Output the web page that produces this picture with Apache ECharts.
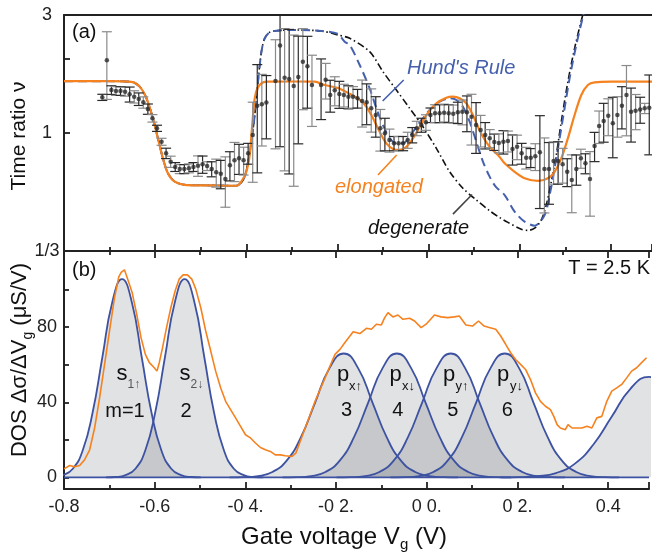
<!DOCTYPE html>
<html><head><meta charset="utf-8">
<script src="https://cdn.jsdelivr.net/npm/echarts@6/dist/echarts.min.js"></script>
<style>html,body{margin:0;padding:0;background:#fff}#c{width:652px;height:552px}</style>
</head><body><div id="c"></div>
<script>
const FONT = "'Liberation Sans', Arial, Helvetica, sans-serif";

// ---------- panel (a): measured time ratio ----------
const gateA = [-0.716,-0.706,-0.696,-0.686,-0.676,-0.666,-0.656,-0.646,-0.636,-0.626,-0.616,-0.606,-0.596,-0.586,-0.576,-0.566,-0.556,-0.546,-0.536,-0.526,-0.516,-0.506,-0.496,-0.486,-0.476,-0.466,-0.456,-0.446,-0.436,-0.426,-0.416,-0.406,-0.396,-0.386,-0.376,-0.366,-0.356,-0.336,-0.326,-0.316,-0.306,-0.296,-0.286,-0.276,-0.266,-0.256,-0.236,-0.226,-0.216,-0.206,-0.196,-0.186,-0.176,-0.166,-0.156,-0.146,-0.136,-0.126,-0.116,-0.106,-0.096,-0.086,-0.076,-0.066,-0.056,-0.046,-0.036,-0.026,-0.016,-0.006,0.004,0.014,0.024,0.034,0.044,0.054,0.064,0.074,0.084,0.094,0.104,0.114,0.124,0.134,0.144,0.154,0.164,0.174,0.184,0.194,0.204,0.214,0.224,0.234,0.244,0.254,0.264,0.274,0.284,0.294,0.304,0.314,0.324,0.334,0.344,0.354,0.364,0.374,0.384,0.394,0.404,0.414,0.424,0.434,0.444,0.454,0.464,0.474,0.484];
const ratioA = [1.394,1.967,1.492,1.479,1.479,1.469,1.434,1.402,1.372,1.33,1.25,1.147,1.045,0.922,0.828,0.766,0.729,0.715,0.715,0.72,0.729,0.738,0.747,0.735,0.715,0.694,0.685,0.651,0.74,0.776,0.79,0.776,0.828,0.982,1.29,1.306,1.327,1.623,2.26,1.673,1.653,1.549,1.684,1.942,1.86,1.563,1.563,1.642,1.424,1.488,1.438,1.424,1.402,1.40,1.381,1.347,1.33,1.258,1.182,1.045,0.997,0.937,0.908,0.908,0.908,0.937,0.982,1.045,1.077,1.105,1.182,1.201,1.201,1.208,1.201,1.197,1.212,1.219,1.212,1.164,1.077,1.028,0.982,0.952,0.92,0.912,0.922,0.928,0.862,0.88,0.828,0.795,0.795,0.805,0.835,0.715,0.715,0.771,0.771,0.747,0.697,0.646,0.715,0.79,0.754,0.651,0.886,1.067,1.118,1.175,1.094,1.182,1.289,1.424,1.219,1.231,1.245,1.258,1.266];
const ratioErr = [0.04,0.60,0.06,0.06,0.06,0.06,0.10,0.08,0.08,0.07,0.06,0.04,0.03,0.03,0.04,0.04,0.03,0.03,0.03,0.03,0.03,0.07,0.06,0.03,0.05,0.09,0.09,0.15,0.10,0.14,0.11,0.10,0.08,0.35,0.60,0.42,0.38,0.76,1.38,0.97,0.97,0.94,0.78,0.70,0.60,0.50,0.43,0.27,0.21,0.20,0.18,0.15,0.15,0.14,0.12,0.29,0.25,0.25,0.22,0.20,0.15,0.10,0.06,0.06,0.06,0.07,0.07,0.07,0.07,0.08,0.08,0.10,0.10,0.10,0.10,0.10,0.12,0.14,0.20,0.27,0.25,0.15,0.12,0.08,0.07,0.08,0.10,0.09,0.12,0.10,0.08,0.08,0.07,0.10,0.34,0.24,0.20,0.15,0.15,0.12,0.09,0.17,0.10,0.07,0.07,0.19,0.12,0.16,0.20,0.20,0.30,0.22,0.25,0.45,0.30,0.20,0.15,0.06,0.45];

// model curves (panel a)
const elongated = [[-0.80,1.62],[-0.70,1.62],[-0.652,1.61],[-0.634,1.54],[-0.619,1.38],[-0.605,1.147],[-0.594,0.952],[-0.583,0.79],[-0.572,0.687],[-0.557,0.636],[-0.531,0.616],[-0.48,0.614],[-0.422,0.612],[-0.411,0.636],[-0.400,0.697],[-0.3925,0.815],[-0.3888,0.982],[-0.3853,1.182],[-0.3816,1.381],[-0.3757,1.516],[-0.3669,1.588],[-0.3559,1.612],[-0.30,1.615],[-0.25,1.612],[-0.228,1.563],[-0.199,1.52],[-0.1732,1.44],[-0.1513,1.36],[-0.1366,1.277],[-0.1221,1.147],[-0.1075,1.012],[-0.0928,0.908],[-0.0783,0.862],[-0.0636,0.854],[-0.0489,0.88],[-0.0344,0.952],[-0.0197,1.06],[-0.005,1.182],[0.0169,1.318],[0.0388,1.389],[0.0533,1.402],[0.068,1.381],[0.0827,1.318],[0.0971,1.182],[0.1081,1.06],[0.1191,0.966],[0.1338,0.88],[0.1557,0.80],[0.1667,0.754],[0.1886,0.697],[0.2105,0.656],[0.2397,0.64],[0.2616,0.656],[0.2763,0.697],[0.291,0.79],[0.3055,0.952],[0.3202,1.182],[0.3349,1.424],[0.3493,1.563],[0.364,1.603],[0.4007,1.612],[0.49,1.612]];
const hundsRule = [[-0.80,1.62],[-0.70,1.62],[-0.652,1.61],[-0.634,1.54],[-0.619,1.38],[-0.605,1.147],[-0.594,0.952],[-0.583,0.79],[-0.572,0.687],[-0.557,0.636],[-0.531,0.616],[-0.48,0.614],[-0.422,0.612],[-0.405,0.656],[-0.3963,0.766],[-0.3888,0.922],[-0.3816,1.182],[-0.3757,1.516],[-0.3706,1.883],[-0.3656,2.20],[-0.3596,2.415],[-0.3487,2.554],[-0.334,2.592],[-0.3011,2.609],[-0.2353,2.585],[-0.20,2.52],[-0.1842,2.34],[-0.1732,2.269],[-0.1513,1.883],[-0.1294,1.516],[-0.1147,1.259],[-0.1002,1.077],[-0.0855,0.952],[-0.0708,0.908],[-0.0564,0.908],[-0.0417,0.966],[-0.027,1.06],[-0.0125,1.147],[0.0022,1.239],[0.0241,1.338],[0.0461,1.381],[0.0607,1.36],[0.0752,1.277],[0.0899,1.111],[0.1046,0.922],[0.1191,0.766],[0.1338,0.666],[0.147,0.607],[0.1667,0.561],[0.1886,0.481],[0.2105,0.438],[0.2325,0.422],[0.2544,0.466],[0.2654,0.561],[0.2763,0.72],[0.2873,0.952],[0.2982,1.259],[0.3092,1.664],[0.3239,2.269],[0.3384,2.95],[0.35,3.6]];
const degenerate = [[-0.80,1.62],[-0.70,1.62],[-0.652,1.61],[-0.634,1.54],[-0.619,1.38],[-0.605,1.147],[-0.594,0.952],[-0.583,0.79],[-0.572,0.687],[-0.557,0.636],[-0.531,0.616],[-0.48,0.614],[-0.422,0.612],[-0.405,0.656],[-0.3963,0.766],[-0.3888,0.922],[-0.3816,1.182],[-0.3757,1.516],[-0.3706,1.883],[-0.3656,2.20],[-0.3596,2.415],[-0.3487,2.554],[-0.334,2.592],[-0.3011,2.609],[-0.2353,2.585],[-0.1989,2.49],[-0.1732,2.415],[-0.1294,2.132],[-0.1002,1.77],[-0.0708,1.492],[-0.0417,1.259],[-0.0125,1.06],[0.0169,0.867],[0.0461,0.697],[0.0752,0.598],[0.1046,0.536],[0.1338,0.485],[0.1557,0.455],[0.1739,0.435],[0.2033,0.408],[0.2178,0.404],[0.2325,0.412],[0.2471,0.445],[0.2581,0.512],[0.2691,0.636],[0.28,0.815],[0.291,1.111],[0.3055,1.612],[0.3202,2.20],[0.3362,2.91],[0.35,3.6]];

// ---------- panel (b): density of states ----------
const dosMeasured = [[-0.80,4.5],[-0.7982,4.9],[-0.7873,6.3],[-0.7763,5.6],[-0.7654,6.3],[-0.7544,9.4],[-0.7434,14.7],[-0.7325,26.3],[-0.7215,42.4],[-0.7105,60.2],[-0.6996,78.0],[-0.6886,95.8],[-0.6792,106.8],[-0.6739,109.2],[-0.6667,110.6],[-0.6595,105.6],[-0.6498,98.5],[-0.6397,86.9],[-0.6301,74.4],[-0.6206,65.5],[-0.6118,61.1],[-0.6009,58.4],[-0.595,56.6],[-0.5899,61.1],[-0.5827,69.1],[-0.5739,79.8],[-0.5643,90.5],[-0.5548,99.4],[-0.5461,105.6],[-0.5373,107.9],[-0.5279,107.9],[-0.5182,105.6],[-0.5094,100.3],[-0.4985,90.5],[-0.4875,78.0],[-0.4765,67.3],[-0.4656,56.6],[-0.4546,47.7],[-0.4436,40.5],[-0.4327,36.1],[-0.4217,31.7],[-0.4107,27.2],[-0.3998,22.7],[-0.3888,21.0],[-0.3779,18.3],[-0.3669,15.9],[-0.3559,14.7],[-0.345,13.8],[-0.334,12.0],[-0.323,12.0],[-0.3121,11.5],[-0.2976,11.1],[-0.2888,12.9],[-0.2792,19.1],[-0.2682,26.3],[-0.2572,33.4],[-0.2463,40.5],[-0.2353,46.8],[-0.2243,53.0],[-0.2134,59.3],[-0.2024,65.5],[-0.1914,68.2],[-0.1805,71.8],[-0.1695,75.3],[-0.1623,77.6],[-0.1476,76.6],[-0.1331,79.4],[-0.1221,78.9],[-0.1112,81.6],[-0.1002,81.2],[-0.0928,85.1],[-0.0855,87.8],[-0.0746,85.5],[-0.0636,86.5],[-0.0526,84.2],[-0.0379,84.8],[-0.027,83.3],[-0.0125,79.8],[-0.0015,81.6],[0.0169,86.5],[0.0314,85.5],[0.0461,85.1],[0.0607,85.5],[0.0717,86.0],[0.0862,81.2],[0.1009,80.6],[0.114,83.3],[0.1265,80.6],[0.1375,79.8],[0.152,78.9],[0.163,75.3],[0.1739,70.9],[0.1849,66.4],[0.1958,62.8],[0.2068,60.2],[0.2178,57.5],[0.2287,52.1],[0.2397,45.0],[0.2507,40.5],[0.2616,37.9],[0.2726,36.1],[0.2801,32.5],[0.2873,28.1],[0.2945,26.3],[0.3055,25.4],[0.3114,28.1],[0.3202,26.3],[0.3311,26.3],[0.3421,26.3],[0.3531,27.2],[0.364,26.3],[0.375,31.7],[0.386,32.5],[0.3969,40.5],[0.4079,45.9],[0.4189,47.7],[0.4298,49.5],[0.4408,53.0],[0.4518,56.6],[0.4627,58.4],[0.4737,61.1],[0.4846,63.7]];

const peakS1 = [[-0.8456,0.0],[-0.8239,0.2],[-0.8022,1.2],[-0.7805,4.6],[-0.7588,14.3],[-0.7371,34.3],[-0.7154,64.0],[-0.6937,93.2],[-0.672,105.6],[-0.6503,93.2],[-0.6286,64.0],[-0.6069,34.3],[-0.5852,14.3],[-0.5635,4.6],[-0.5418,1.2],[-0.5201,0.2],[-0.4984,0.0]];
const peakS2 = [[-0.7076,0.0],[-0.6859,0.2],[-0.6642,1.2],[-0.6425,4.6],[-0.6208,14.3],[-0.5991,34.3],[-0.5774,64.0],[-0.5557,93.2],[-0.534,105.6],[-0.5123,93.2],[-0.4906,64.0],[-0.4689,34.3],[-0.4472,14.3],[-0.4255,4.6],[-0.4038,1.2],[-0.3821,0.2],[-0.3604,0.0]];
const peakPxUp = [[-0.435,0.0],[-0.4035,0.1],[-0.372,0.7],[-0.3405,2.9],[-0.309,8.9],[-0.2775,21.4],[-0.246,40.0],[-0.2145,58.2],[-0.183,66.0],[-0.1515,58.2],[-0.12,40.0],[-0.0885,21.4],[-0.057,8.9],[-0.0255,2.9],[0.006,0.7],[0.0375,0.1],[0.069,0.0]];
const peakPxDn = [[-0.318,0.0],[-0.2865,0.1],[-0.255,0.7],[-0.2235,2.9],[-0.192,8.9],[-0.1605,21.4],[-0.129,40.0],[-0.0975,58.2],[-0.066,66.0],[-0.0345,58.2],[-0.003,40.0],[0.0285,21.4],[0.06,8.9],[0.0915,2.9],[0.123,0.7],[0.1545,0.1],[0.186,0.0]];
const peakPyUp = [[-0.199,0.0],[-0.1675,0.1],[-0.136,0.7],[-0.1045,2.9],[-0.073,8.9],[-0.0415,21.4],[-0.01,40.0],[0.0215,58.2],[0.053,66.0],[0.0845,58.2],[0.116,40.0],[0.1475,21.4],[0.179,8.9],[0.2105,2.9],[0.242,0.7],[0.2735,0.1],[0.305,0.0]];
const peakPyDn = [[-0.08,0.0],[-0.0485,0.1],[-0.017,0.7],[0.0145,2.9],[0.046,8.9],[0.0775,21.4],[0.109,40.0],[0.1405,58.2],[0.172,66.0],[0.2035,58.2],[0.235,40.0],[0.2665,21.4],[0.298,8.9],[0.3295,2.9],[0.361,0.7],[0.3925,0.1],[0.424,0.0]];
const peakNext = [[0.162,0.0],[0.203,0.1],[0.244,0.6],[0.285,2.3],[0.326,7.2],[0.367,17.4],[0.408,32.4],[0.449,47.2],[0.49,53.5],[0.531,47.2]];
const zeroLine = [[-0.8,0],[0.49,0]];

// axis ticks / labels
const xLabelValues = [-0.8,-0.6,-0.4,-0.2,0,0.2,0.4];
const xLabelTexts = ['-0.8','-0.6','-0 4.','-0 2.','0 0.','0 2.','0.4'];
const ratioTickValues = [1,2];
const ratioLabelValues = [1/3,1,3];
const ratioLabelTexts = ['1/3','1','3'];
const dosTickValues = [0,20,40,60,80,100];
const dosLabelValues = [0,40,80];

const AX = '#222';
const ORANGE = '#f5821f';
const BLUE = '#3d52a1';
const HBLUE = '#4560ad';

function axisBase(extra){
  return Object.assign({
    type:'value', axisLine:{show:true, onZero:false, lineStyle:{color:AX,width:2}},
    splitLine:{show:false}, axisLabel:{show:false}
  }, extra);
}

const chart = echarts.init(document.getElementById('c'), null, {renderer:'canvas'});

const xCommon = {min:-0.8, max:0.49, interval:0.2};
const tickIn = {show:true, inside:true, length:7, lineStyle:{color:AX,width:1.8}};
const minorIn = {show:true, splitNumber:2, length:4, lineStyle:{color:AX,width:1.8}};

const gaussStyle = (data) => ({
  type:'line', xAxisIndex:1, yAxisIndex:1, data, smooth:0.5, symbol:'none', z:2,
  lineStyle:{color:BLUE, width:1.8},
  areaStyle:{color:'rgba(15,22,40,0.18)', origin:0},
  silent:true
});

function txt(x,y,text,size,opt){
  return Object.assign({type:'text', x, y, silent:true, z:100,
    style:Object.assign({text, fontSize:size, fontFamily:FONT, fill:'#111', align:'center', verticalAlign:'middle'}, opt||{})});
}

const option = {
  animation:false,
  backgroundColor:'#fff',
  grid:[
    {left:64, right:0, top:15, height:236},
    {left:64, right:0, top:251, bottom:63}
  ],
  xAxis:[
    axisBase(Object.assign({gridIndex:0, position:'bottom', axisTick:tickIn, minorTick:minorIn}, xCommon)),
    axisBase(Object.assign({gridIndex:1, position:'bottom', axisTick:tickIn, minorTick:minorIn,
      axisLabel:{show:true, margin:9, fontSize:18, color:AX, fontFamily:FONT,
        formatter:(v)=>{for(let i=0;i<xLabelValues.length;i++){if(Math.abs(v-xLabelValues[i])<1e-6)return xLabelTexts[i];}return '';}}}, xCommon)),
    axisBase(Object.assign({gridIndex:0, position:'top', axisTick:{show:false}}, xCommon)),
    axisBase(Object.assign({gridIndex:1, position:'top', axisTick:tickIn, minorTick:minorIn}, xCommon))
  ],
  yAxis:[
    {gridIndex:0, type:'log', logBase:3, min:1/3, max:3,
      axisLine:{show:true, onZero:false, lineStyle:{color:AX,width:2}},
      axisTick:{show:true, inside:true, length:6, customValues:ratioTickValues, lineStyle:{color:AX,width:1.8}},
      axisLabel:{show:true, customValues:ratioLabelValues, margin:17, align:'center', fontSize:18, color:AX, fontFamily:FONT,
        formatter:(v)=>{for(let i=0;i<ratioLabelValues.length;i++){if(Math.abs(v-ratioLabelValues[i])<1e-4)return ratioLabelTexts[i];}return '';}},
      splitLine:{show:false}},
    {gridIndex:1, type:'value', min:-6.2, max:120.6,
      axisLine:{show:true, onZero:false, lineStyle:{color:AX,width:2}},
      axisTick:{show:true, inside:true, length:5, customValues:dosTickValues, lineStyle:{color:AX,width:1.8}},
      axisLabel:{show:true, customValues:dosLabelValues, margin:7, fontSize:18, color:AX, fontFamily:FONT},
      splitLine:{show:false}}
  ],
  series:[
    {type:'line', name:'degenerate', xAxisIndex:0, yAxisIndex:0, data:degenerate, smooth:0.3, symbol:'none', z:2,
      lineStyle:{color:'#111', width:1.6, type:[7,3,1.5,3]},
      markLine:{silent:true, animation:false, symbol:['none','arrow'], symbolSize:[0,10], label:{show:false},
        lineStyle:{color:'#444', width:1.6, type:'solid'},
        data:[[{coord:[0.0533,0.47]},{coord:[0.0954,0.564]}]]}},
    {type:'line', name:'Hund', xAxisIndex:0, yAxisIndex:0, data:hundsRule, smooth:0.3, symbol:'none', z:3,
      lineStyle:{color:HBLUE, width:2, type:[9,5]},
      markLine:{silent:true, animation:false, symbol:['none','arrow'], symbolSize:[0,10], label:{show:false},
        lineStyle:{color:HBLUE, width:1.6, type:'solid'},
        data:[[{coord:[-0.0548,1.638]},{coord:[-0.1009,1.347]}]]}},
    {type:'line', name:'elongated', xAxisIndex:0, yAxisIndex:0, data:elongated, smooth:0.3, symbol:'none', z:4,
      lineStyle:{color:ORANGE, width:2.2},
      markLine:{silent:true, animation:false, symbol:['none','arrow'], symbolSize:[0,10], label:{show:false},
        lineStyle:{color:ORANGE, width:1.6, type:'solid'},
        data:[[{coord:[-0.1112,0.676]},{coord:[-0.0702,0.815]}]]}},
    {type:'custom', name:'err', xAxisIndex:0, yAxisIndex:0, clip:true, z:5, silent:true,
      data:gateA.map((x,i)=>[x, ratioA[i], ratioErr[i]]),
      renderItem:(params, api)=>{
        const x=api.value(0), y=api.value(1), e=api.value(2);
        const p1=api.coord([x, y+e]); const p2=api.coord([x, Math.max(y-e,0.05)]);
        const col = params.dataIndex%2 ? '#8a8a8a' : '#2a2a2a';
        const hw=5;
        return {type:'group', children:[
          {type:'line', shape:{x1:p1[0],y1:p1[1],x2:p2[0],y2:p2[1]}, style:{stroke:col,lineWidth:1.2}},
          {type:'line', shape:{x1:p1[0]-hw,y1:p1[1],x2:p1[0]+hw,y2:p1[1]}, style:{stroke:col,lineWidth:1.2}},
          {type:'line', shape:{x1:p2[0]-hw,y1:p2[1],x2:p2[0]+hw,y2:p2[1]}, style:{stroke:col,lineWidth:1.2}}
        ]};
      }},
    {type:'scatter', name:'pts', xAxisIndex:0, yAxisIndex:0, z:6, silent:true,
      data:gateA.map((x,i)=>[x, ratioA[i]]), symbolSize:4.5, itemStyle:{color:'#2a2a2a'}},

    gaussStyle(peakS1), gaussStyle(peakS2), gaussStyle(peakPxUp), gaussStyle(peakPxDn),
    gaussStyle(peakPyUp), gaussStyle(peakPyDn), gaussStyle(peakNext),
    {type:'line', xAxisIndex:1, yAxisIndex:1, data:zeroLine, symbol:'none', z:3, silent:true,
      lineStyle:{color:BLUE, width:1.8}},
    {type:'line', xAxisIndex:1, yAxisIndex:1, data:dosMeasured, symbol:'none', z:4, silent:true,
      lineStyle:{color:ORANGE, width:1.6}}
  ],
  graphic:{elements:[
    txt(72,32,'(a)',20,{align:'left'}),
    txt(72,270,'(b)',20,{align:'left'}),
    txt(650,268,'T = 2.5 K',20,{align:'right'}),
    txt(407,68,"Hund's Rule",20,{align:'left', fontStyle:'italic', fill:HBLUE}),
    txt(335,187,'elongated',20,{align:'left', fontStyle:'italic', fill:ORANGE}),
    txt(368,228,'degenerate',20,{align:'left', fontStyle:'italic', fill:'#111'}),
    // peak labels
    txt(122,374,'s',22), txt(127.5,385,'1↑',12,{align:'left', fill:'#555'}), txt(125,411,'m=1',20),
    txt(185,374,'s',22), txt(190.5,385,'2↓',12,{align:'left', fill:'#555'}), txt(186,411,'2',20),
    txt(343,375,'p',22), txt(349,386,'x↑',13,{align:'left'}), txt(346.5,410,'3',20),
    txt(395.5,375,'p',22), txt(402,386,'x↓',13,{align:'left'}), txt(397.7,410,'4',20),
    txt(449,375,'p',22), txt(455.5,386,'y↑',13,{align:'left'}), txt(452.7,410,'5',20),
    txt(503,375,'p',22), txt(510,386,'y↓',13,{align:'left'}), txt(507.3,410,'6',20),
    // axis titles
    {type:'text', x:19, y:136, rotation:Math.PI/2, silent:true,
      style:{text:'Time ratio ν', fontSize:21, fontFamily:FONT, fill:'#111', align:'center', verticalAlign:'middle'}},
    {type:'text', x:20, y:360, rotation:Math.PI/2, silent:true,
      style:{text:'{a|DOS Δσ/ΔV}{b|g}{a| (μS/V)}', fontFamily:FONT, fill:'#111', align:'center', verticalAlign:'middle',
        rich:{a:{fontSize:22, fontFamily:FONT, lineHeight:30, verticalAlign:'middle'}, b:{fontSize:14, fontFamily:FONT, lineHeight:12, verticalAlign:'bottom'}}}},
    {type:'text', x:344, y:537, silent:true,
      style:{text:'{a|Gate voltage V}{b|g}{a| (V)}', fontFamily:FONT, fill:'#111', align:'center', verticalAlign:'middle',
        rich:{a:{fontSize:24, fontFamily:FONT, lineHeight:30, verticalAlign:'middle'}, b:{fontSize:15, fontFamily:FONT, lineHeight:12, verticalAlign:'bottom'}}}}
  ]}
};
chart.setOption(option);
</script>
</body></html>
